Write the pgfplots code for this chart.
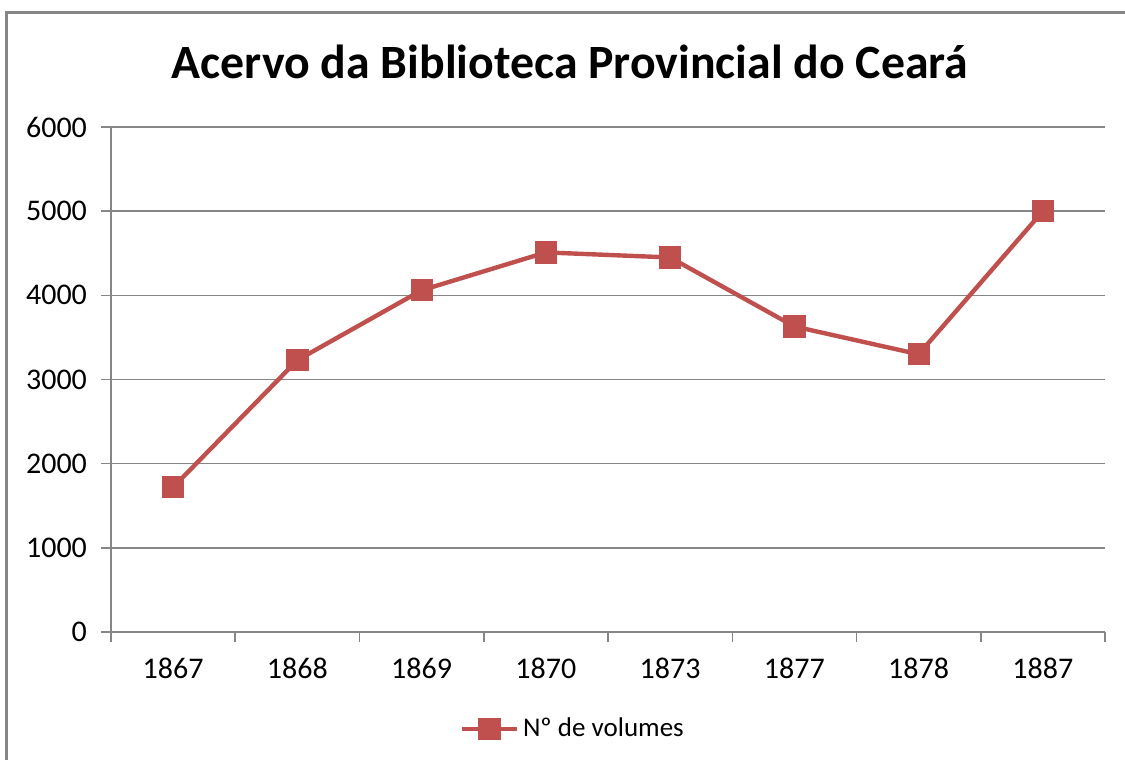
\documentclass[border=0pt]{standalone}
\usepackage{fontspec}
\setmainfont{Carlito}
\usepackage{pgfplots}
\pgfplotsset{compat=1.18}
\definecolor{serie}{HTML}{C0504D}
\definecolor{grade}{HTML}{868686}
\begin{document}
\begin{tikzpicture}
\path[use as bounding box] (-55.5pt,-64pt) rectangle (507pt,316pt);
\draw[grade, line width=1.5pt] (-52pt,-80pt) -- (-52pt,309.5pt) -- (520pt,309.5pt);
\begin{axis}[
  scale only axis, width=497pt, height=252.5pt,
  at={(0pt,0pt)}, anchor=south west,
  xmin=-0.5, xmax=7.5, ymin=0, ymax=6000,
  xtick={-0.5,0.5,1.5,2.5,3.5,4.5,5.5,6.5,7.5},
  x tick label as interval,
  xticklabels={1867,1868,1869,1870,1873,1877,1878,1887},
  ytick={0,1000,2000,3000,4000,5000,6000},
  ymajorgrids, grid style={grade, line width=0.75pt},
  axis line style={grade, line width=0.75pt},
  axis x line*=bottom, axis y line*=left,
  tick align=outside,
  major tick length=5pt,
  tick style={grade, line width=0.75pt},
  ticklabel style={font=\fontsize{15}{17}\selectfont, text=black},
  /pgf/number format/assume math mode=true,
  /pgf/number format/1000 sep={},
  yticklabel shift=3.5pt,
  xticklabel shift=4.5pt,
  legend style={draw=none, fill=none, at={(0.4655,-0.192)}, anchor=center,
    font=\fontsize{13.5}{16}\selectfont},
  legend image code/.code={
    \draw[serie, line width=2.2pt] (0pt,0pt) -- (27.5pt,0pt);
    \fill[serie] (9.25pt,-4.5pt) rectangle (18.25pt,4.5pt);
  },
]
\addplot[serie, line width=2.2pt, mark=square*, mark size=5.3pt,
  mark options={solid, line width=0.4pt, fill=serie, draw=serie}]
  coordinates {(0,1720) (1,3230) (2,4060) (3,4510) (4,4450) (5,3630) (6,3300) (7,5000)};
\addlegendentry{Nº de volumes}
\end{axis}
\node[anchor=base, font=\bfseries\fontsize{23.9}{28}\selectfont] at (229.5pt,276.5pt) {Acervo da Biblioteca Provincial do Ceará};
\end{tikzpicture}
\end{document}
